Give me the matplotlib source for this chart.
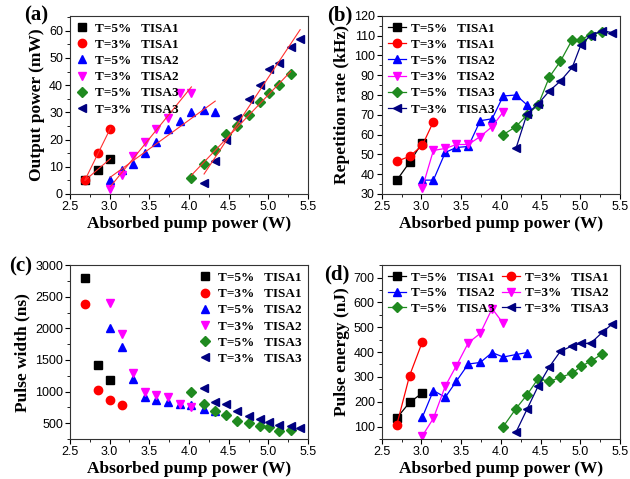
import numpy as np
import matplotlib
matplotlib.use('Agg')
import matplotlib.pyplot as plt
from matplotlib.ticker import AutoMinorLocator

# absorbed pump power (W) for each group
x_tisa1 = [2.69, 2.85, 3.01]
x_tisa1_b = [2.69, 2.85, 3.01, 3.15]
x_tisa2_5 = [3.01, 3.15, 3.30, 3.44, 3.59, 3.74, 3.89, 4.03, 4.19, 4.33]
x_tisa2_3 = [3.01, 3.15, 3.30, 3.44, 3.59, 3.74, 3.89, 4.03]
x_tisa3_5 = [4.03, 4.19, 4.33, 4.47, 4.61, 4.75, 4.90, 5.01, 5.13, 5.28]
x_tisa3_3 = [4.19, 4.33, 4.47, 4.61, 4.75, 4.90, 5.01, 5.13, 5.28, 5.40]

# (a) output power (mW)
pow_t1_5 = [5, 9, 13]
pow_t1_3 = [5, 15, 24]
pow_t2_5 = [5, 9, 11, 15, 19, 24, 27, 30, 31, 30]
pow_t2_3 = [2, 7, 14, 19, 24, 28, 37, 37]
pow_t3_5 = [6, 11, 16, 22, 25, 29, 34, 37, 40, 44]
pow_t3_3 = [4, 12, 20, 28, 35, 40, 46, 48, 54, 57]

# (b) repetition rate (kHz)
rep_t1_5 = [37, 46, 56]
rep_t1_3 = [46.5, 49, 54.5, 66.5]
rep_t2_5 = [37, 37, 51, 53.5, 54, 67, 68, 79.5, 80, 75]
rep_t2_3 = [33, 52, 53, 55, 55, 59, 64, 71.5]
rep_t3_5 = [60, 64, 70, 75, 89, 97, 108, 108, 110.5, 112]
rep_t3_3 = [53, 70.5, 75.5, 82, 87, 94, 105.5, 110, 112.5, 111.5]

# (c) pulse width (ns)
wid_t1_5 = [2790, 1420, 1180]
wid_t1_3 = [2380, 1030, 860, 780]
wid_t2_5 = [2000, 1700, 1200, 910, 860, 830, 810, 780, 730, 690]
wid_t2_3 = [2400, 1910, 1300, 1000, 950, 910, 810, 760]
wid_t3_5 = [1000, 810, 700, 630, 540, 510, 460, 440, 370, 400]
wid_t3_3 = [1050, 840, 800, 700, 610, 570, 520, 470, 460, 420]

# (d) pulse energy (nJ)
en_t1_5 = [135, 197, 235]
en_t1_3 = [108, 305, 440]
en_t2_5 = [137, 245, 218, 283, 352, 358, 398, 380, 390, 398]
en_t2_3 = [62, 133, 263, 345, 437, 475, 575, 515]
en_t3_5 = [100, 172, 228, 293, 282, 298, 315, 342, 363, 393]
en_t3_3 = [77, 170, 263, 340, 403, 425, 435, 435, 480, 512]

labels = ['T=5%   TISA1', 'T=3%   TISA1', 'T=5%   TISA2',
          'T=3%   TISA2', 'T=5%   TISA3', 'T=3%   TISA3']
colors = ['black', '#FF0000', '#0000FF', '#FF00FF', '#1F8A1F', '#000080']
markers = ['s', 'o', '^', 'v', 'D', '<']
msizes = [5.5, 6, 6, 6, 5, 6]

SERIF = 'Liberation Serif'
SANS = 'Liberation Sans'

plt.rcParams['font.family'] = SANS
plt.rcParams['xtick.direction'] = 'out'
plt.rcParams['ytick.direction'] = 'out'

fig = plt.figure(figsize=(6.3, 4.79), dpi=100)
pos = {
    'a': [0.111, 0.595, 0.378, 0.372],
    'b': [0.606, 0.595, 0.378, 0.372],
    'c': [0.111, 0.0835, 0.378, 0.363],
    'd': [0.606, 0.0835, 0.378, 0.363],
}


def setup(ax, ylabel, ylim, yticks):
    ax.set_xlim(2.5, 5.5)
    ax.set_xticks(np.arange(2.5, 5.51, 0.5))
    ax.set_ylim(*ylim)
    ax.set_yticks(yticks)
    ax.xaxis.set_minor_locator(AutoMinorLocator(2))
    ax.yaxis.set_minor_locator(AutoMinorLocator(2))
    ax.tick_params(labelsize=9, length=3.5, width=0.8, pad=1.5)
    ax.tick_params(which='minor', length=2, width=0.6)
    for s in ax.spines.values():
        s.set_linewidth(0.8)
        s.set_color('#333333')
    ax.set_xlabel('Absorbed pump power (W)', fontfamily=SERIF, fontweight='bold',
                  fontsize=12.5, labelpad=2)
    ax.set_ylabel(ylabel, fontfamily=SERIF, fontweight='bold', fontsize=12.5, labelpad=3)


def leg_font():
    return {'family': SERIF, 'weight': 'bold', 'size': 9.5}


def panel_tag(x, y, s):
    fig.text(x, y, s, fontfamily=SERIF, fontweight='bold', fontsize=15,
             ha='center', va='center')


xs = [x_tisa1, x_tisa1, x_tisa2_5, x_tisa2_3, x_tisa3_5, x_tisa3_3]

# ---- (a) output power with linear fits
ax = fig.add_axes(pos['a'])
ys = [pow_t1_5, pow_t1_3, pow_t2_5, pow_t2_3, pow_t3_5, pow_t3_3]
for i in range(6):
    ax.plot(xs[i], ys[i], linestyle='none', marker=markers[i], color=colors[i],
            markersize=msizes[i], label=labels[i], zorder=2)
    k, b = np.polyfit(xs[i], ys[i], 1)
    xf = np.array([xs[i][0], xs[i][-1]])
    ax.plot(xf, k * xf + b, color='#FF3030', linewidth=0.8, zorder=3)
setup(ax, 'Output power (mW)', (0, 65.5), np.arange(0, 61, 10))
ax.legend(loc='upper left', frameon=False, prop=leg_font(), handlelength=0.8,
          handletextpad=0.6, labelspacing=0.3, borderaxespad=0.2, borderpad=0.3)
panel_tag(0.057, 0.968, '(a)')

# ---- (b) repetition rate
ax = fig.add_axes(pos['b'])
xs_b = [x_tisa1, x_tisa1_b, x_tisa2_5, x_tisa2_3, x_tisa3_5, x_tisa3_3]
ys = [rep_t1_5, rep_t1_3, rep_t2_5, rep_t2_3, rep_t3_5, rep_t3_3]
for i in range(6):
    ax.plot(xs_b[i], ys[i], marker=markers[i], color=colors[i], linewidth=0.9,
            markersize=msizes[i], label=labels[i])
setup(ax, 'Repetition rate (kHz)', (30, 120), np.arange(30, 121, 10))
ax.legend(loc='upper left', frameon=False, prop=leg_font(), handlelength=1.3,
          handletextpad=0.4, labelspacing=0.3, borderaxespad=0.2, borderpad=0.3)
panel_tag(0.54, 0.968, '(b)')

# ---- (c) pulse width
ax = fig.add_axes(pos['c'])
ys = [wid_t1_5, wid_t1_3, wid_t2_5, wid_t2_3, wid_t3_5, wid_t3_3]
for i in range(6):
    ax.plot(xs_b[i], ys[i], linestyle='none', marker=markers[i], color=colors[i],
            markersize=msizes[i], label=labels[i])
setup(ax, 'Pulse width (ns)', (250, 3000), np.arange(500, 3001, 500))
ax.legend(loc='upper right', frameon=False, prop=leg_font(), handlelength=0.8,
          handletextpad=0.6, labelspacing=0.3, borderaxespad=0.2, borderpad=0.3)
panel_tag(0.033, 0.443, '(c)')

# ---- (d) pulse energy
ax = fig.add_axes(pos['d'])
ys = [en_t1_5, en_t1_3, en_t2_5, en_t2_3, en_t3_5, en_t3_3]
handles = []
for i in range(6):
    h, = ax.plot(xs[i], ys[i], marker=markers[i], color=colors[i], linewidth=0.9,
                 markersize=msizes[i], label=labels[i])
    handles.append(h)
setup(ax, 'Pulse energy (nJ)', (50, 750), np.arange(100, 701, 100))
order = [0, 2, 4, 1, 3, 5]
ax.legend([handles[j] for j in order], [labels[j] for j in order], ncol=2,
          loc='upper left', frameon=False, prop=leg_font(), handlelength=1.3,
          handletextpad=0.4, labelspacing=0.25, borderaxespad=0.2, borderpad=0.3,
          columnspacing=0.6)
panel_tag(0.535, 0.426, '(d)')

fig.savefig('out.png', dpi=100)
